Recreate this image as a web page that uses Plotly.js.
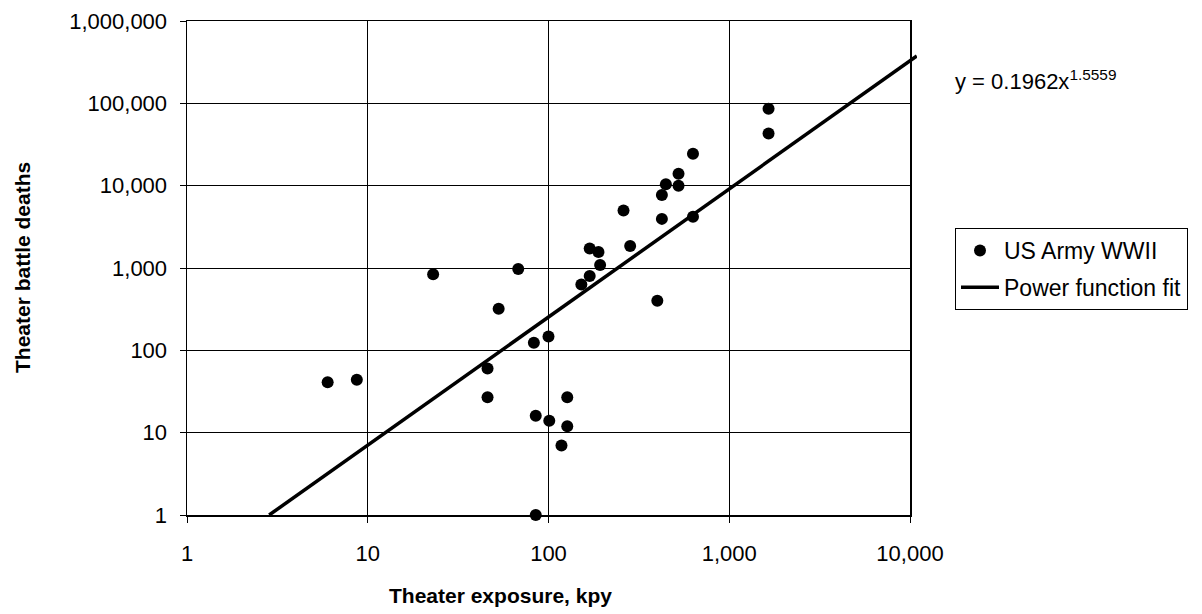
<!DOCTYPE html>
<html>
<head>
<meta charset="utf-8">
<script src="https://cdn.plot.ly/plotly-3.0.1.min.js"></script>
<style>html,body{margin:0;padding:0;background:#fff;}#chart{width:1202px;height:614px;}</style>
</head>
<body>
<div id="chart"></div>
<script>
// Theater exposure (kpy) and theater battle deaths, US Army WWII
var exposureKpy = [6.0, 8.7, 23, 46, 46, 53, 68, 83, 85, 85, 100, 101, 118, 127, 127,
                   152, 169, 169, 189, 193, 260, 283, 400, 424, 424, 446, 524, 524, 630, 630, 1650, 1650];
var battleDeaths = [41, 44, 840, 60, 27, 320, 970, 124, 16, 1, 147, 14, 7, 27, 12,
                    630, 800, 1720, 1565, 1090, 5000, 1850, 400, 7700, 3950, 10400, 14000, 10000, 24400, 4200, 86000, 43000];

// Power function fit y = a * x^b
var fitA = 0.1962;
var fitB = 1.5559;

var xTickVals = [1, 10, 100, 1000, 10000];
var xTickText = ['1', '10', '100', '1,000', '10,000'];
var yTickVals = [1, 10, 100, 1000, 10000, 100000, 1000000];
var yTickText = ['1', '10', '100', '1,000', '10,000', '100,000', '1,000,000'];

var seriesName = 'US Army WWII';
var fitName = 'Power function fit';
var xTitle = 'Theater exposure, kpy';
var yTitle = 'Theater battle deaths';

// plot geometry
var W = 1202, H = 614;
var mL = 187, mR = 285, mT = 21, mB = 99;
var pw = W - mL - mR, ph = H - mT - mB;
var xMainDomainEnd = 723 / pw;
var x2RangeMax = 4 / xMainDomainEnd;

// fit line: from where fit = 1 to the right edge of the extended axis
var fitStartLog = Math.log10(1 / fitA) / fitB;
var fitX = [], fitY = [];
var nFit = 20;
for (var i = 0; i <= nFit; i++) {
  var lx = fitStartLog + (x2RangeMax - 0.001 - fitStartLog) * i / nFit;
  var xv = Math.pow(10, lx);
  fitX.push(xv);
  fitY.push(fitA * Math.pow(xv, fitB));
}

var font = 'Arial, "Liberation Sans", sans-serif';

var traces = [
  {
    x: exposureKpy, y: battleDeaths, type: 'scatter', mode: 'markers', name: seriesName,
    marker: {color: '#000', size: 12, line: {width: 0}},
    xaxis: 'x', yaxis: 'y', cliponaxis: false, legendgroup: 'a'
  },
  {
    x: fitX, y: fitY, type: 'scatter', mode: 'lines', name: fitName,
    line: {color: '#000', width: 3.5},
    xaxis: 'x2', yaxis: 'y2', legendgroup: 'b'
  }
];

function px2x(px) { return (px - mL) / pw; }
function py2y(py) { return (H - mB - py) / ph; }

var layout = {
  width: W, height: H,
  margin: {l: mL, r: mR, t: mT, b: mB, pad: 0},
  paper_bgcolor: '#fff', plot_bgcolor: 'rgba(0,0,0,0)',
  font: {family: font, size: 22, color: '#000'},
  showlegend: true,
  legend: {
    x: px2x(955), y: py2y(228), xanchor: 'left', yanchor: 'top',
    bordercolor: '#000', borderwidth: 1, bgcolor: '#fff',
    font: {family: font, size: 23, color: '#000'},
    tracegroupgap: 4, itemwidth: 38
  },
  xaxis: {
    type: 'log', range: [0, 4], domain: [0, xMainDomainEnd],
    tickvals: xTickVals, ticktext: xTickText,
    showgrid: true, gridcolor: '#000', gridwidth: 1,
    showline: true, linecolor: '#000', linewidth: 1.5, mirror: true,
    ticks: 'outside', ticklen: 6, tickcolor: '#000', tickwidth: 1,
    ticklabelstandoff: 12,
    zeroline: false, fixedrange: true,
    tickfont: {family: font, size: 22, color: '#000'}
  },
  yaxis: {
    type: 'log', range: [0, 6], domain: [0, 1],
    tickvals: yTickVals, ticktext: yTickText,
    showgrid: true, gridcolor: '#000', gridwidth: 1,
    showline: true, linecolor: '#000', linewidth: 1.5, mirror: true,
    ticks: 'outside', ticklen: 6, tickcolor: '#000', tickwidth: 1,
    ticklabelstandoff: 8,
    zeroline: false, fixedrange: true,
    tickfont: {family: font, size: 22, color: '#000'}
  },
  xaxis2: {
    type: 'log', range: [0, x2RangeMax], domain: [0, 1], anchor: 'y2',
    visible: false, showgrid: false, zeroline: false, fixedrange: true
  },
  yaxis2: {
    type: 'log', range: [0, 6], domain: [0, 1], anchor: 'x2',
    visible: false, showgrid: false, zeroline: false, fixedrange: true
  },
  annotations: [
    {
      xref: 'paper', yref: 'paper', x: px2x(500), y: py2y(595),
      xanchor: 'center', yanchor: 'middle', showarrow: false,
      text: '<b>' + xTitle + '</b>', font: {family: font, size: 21, color: '#000'}
    },
    {
      xref: 'paper', yref: 'paper', x: px2x(22), y: 0.5,
      xanchor: 'center', yanchor: 'middle', showarrow: false, textangle: -90,
      text: '<b>' + yTitle + '</b>', font: {family: font, size: 21, color: '#000'}
    },
    {
      xref: 'paper', yref: 'paper', x: px2x(953), y: py2y(80),
      xanchor: 'left', yanchor: 'middle', showarrow: false,
      text: 'y = ' + fitA + 'x<sup>' + fitB + '</sup>', font: {family: font, size: 22, color: '#000'}
    }
  ]
};

Plotly.newPlot('chart', traces, layout, {displayModeBar: false, staticPlot: true});
</script>
</body>
</html>
